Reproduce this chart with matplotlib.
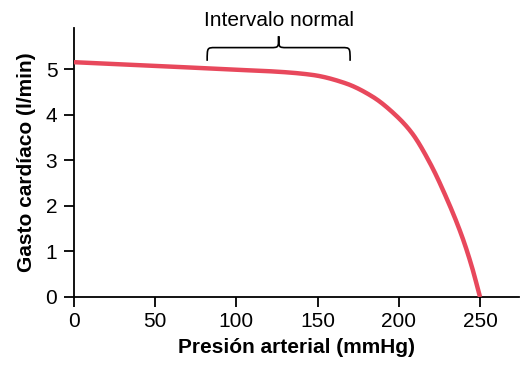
import matplotlib
matplotlib.use("Agg")
import matplotlib.pyplot as plt
from matplotlib.path import Path
from matplotlib.patches import PathPatch
import numpy as np

plt.rcParams['font.family'] = ['Liberation Sans', 'DejaVu Sans']

pressure = [0, 50, 96, 126, 147, 167, 184, 198, 208, 219, 229, 239, 245, 250]
output = [5.15, 5.07, 4.99, 4.94, 4.87, 4.69, 4.39, 3.99, 3.6, 2.95, 2.2, 1.32, 0.66, 0.0]
xticks = [0, 50, 100, 150, 200, 250]
yticks = [0, 1, 2, 3, 4, 5]
range_lo, range_hi = 82, 170

fig = plt.figure(figsize=(5.21, 3.66), dpi=100)
ax = fig.add_axes([74/521, (366-297)/366, (519-74)/521, (297-28)/366])


def pchip(x, y, xn):
    h = np.diff(x); d = np.diff(y) / h
    m = np.zeros_like(y)
    for i in range(1, len(y) - 1):
        if d[i-1] * d[i] > 0:
            w1 = 2*h[i] + h[i-1]; w2 = h[i] + 2*h[i-1]
            m[i] = (w1 + w2) / (w1/d[i-1] + w2/d[i])
    m[0] = d[0]; m[-1] = d[-1]
    out = np.empty_like(xn)
    for j, xv in enumerate(xn):
        i = min(np.searchsorted(x, xv) - 1, len(x) - 2); i = max(i, 0)
        t = (xv - x[i]) / h[i]
        h00 = 2*t**3 - 3*t**2 + 1; h10 = t**3 - 2*t**2 + t
        h01 = -2*t**3 + 3*t**2; h11 = t**3 - t**2
        out[j] = h00*y[i] + h10*h[i]*m[i] + h01*y[i+1] + h11*h[i]*m[i+1]
    return out


xs = np.array(pressure, float)
ys = np.array(output, float)
xn = np.linspace(0, 250, 500)
ax.plot(xn, pchip(xs, ys, xn), color='#e8485c', lw=3.2, solid_capstyle='butt', zorder=3)

ax.set_xlim(0, 274)
ax.set_ylim(0, 5.9)
ax.set_xticks(xticks)
ax.set_yticks(yticks)
for s in ['top', 'right']:
    ax.spines[s].set_visible(False)
for s in ['left', 'bottom']:
    ax.spines[s].set_linewidth(1.3)
ax.tick_params(axis='both', length=7, width=1.3, labelsize=15, pad=4)
ax.tick_params(axis='y', pad=5)
ax.set_xlabel('Presión arterial (mmHg)', fontsize=15, fontweight='bold', labelpad=5)
ax.set_ylabel('Gasto cardíaco (l/min)', fontsize=15, fontweight='bold', labelpad=7)

# curly brace
mid = (range_lo + range_hi) / 2
yb, yh, yt = 5.18, 5.47, 5.72
r = 5.0
verts = [
    (range_lo, yb), (range_lo, yh), (range_lo, yh), (range_lo + r, yh),
    (mid - r, yh), (mid, yh), (mid, yh), (mid, yt),
    (mid, yh), (mid, yh), (mid + r, yh),
    (range_hi - r, yh), (range_hi, yh), (range_hi, yh), (range_hi, yb),
]
codes = [Path.MOVETO, Path.CURVE4, Path.CURVE4, Path.CURVE4,
         Path.LINETO, Path.CURVE4, Path.CURVE4, Path.CURVE4,
         Path.CURVE4, Path.CURVE4, Path.CURVE4,
         Path.LINETO, Path.CURVE4, Path.CURVE4, Path.CURVE4]
ax.add_patch(PathPatch(Path(verts, codes), fill=False, lw=1.2, color='black', clip_on=False))
ax.text(mid, 5.86, 'Intervalo normal', ha='center', va='bottom', fontsize=15, clip_on=False)

fig.savefig('out.png', dpi=100)
